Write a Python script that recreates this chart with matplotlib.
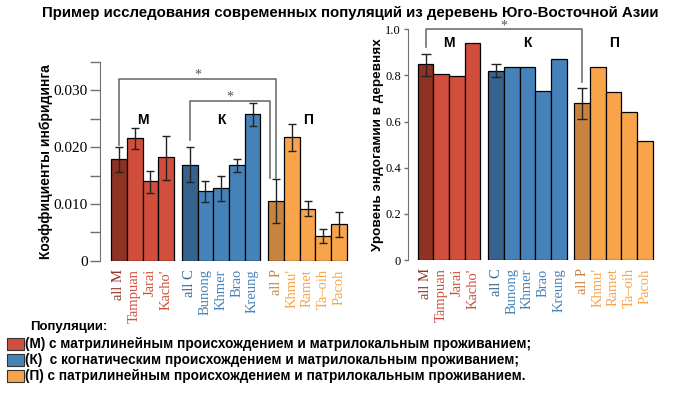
import matplotlib.pyplot as plt
from matplotlib.patches import Rectangle

plt.rcParams['font.family'] = ['Liberation Sans', 'DejaVu Sans']

# --- данные ---
labels = ["all M", "Tampuan", "Jarai", "Kacho'",
          "all C", "Bunong", "Khmer", "Brao", "Kreung",
          "all P", "Khmu'", "Ramet", "Ta\u2013oih", "Pacoh"]
groups = ["M"] * 4 + ["C"] * 5 + ["P"] * 5
is_all = [True, False, False, False, True, False, False, False, False,
          True, False, False, False, False]

inbreeding = [0.0179, 0.0216, 0.0140, 0.0182,
              0.0169, 0.0122, 0.0128, 0.0168, 0.0258,
              0.0105, 0.0218, 0.0092, 0.0043, 0.0065]
inb_hi = [0.0201, 0.0234, 0.0158, 0.0220,
          0.0201, 0.0141, 0.0150, 0.0180, 0.0277,
          0.0144, 0.0241, 0.0106, 0.0056, 0.0086]
inb_lo = [0.0157, 0.0197, 0.0120, 0.0143,
          0.0138, 0.0103, 0.0106, 0.0156, 0.0238,
          0.0066, 0.0194, 0.0079, 0.0031, 0.0042]

endogamy = [0.848, 0.805, 0.796, 0.939,
            0.821, 0.835, 0.838, 0.734, 0.873,
            0.681, 0.835, 0.728, 0.642, 0.517]
# ошибки только у объединённых групп
endo_err = {0: (0.895, 0.799), 4: (0.851, 0.792), 9: (0.747, 0.613)}

group_names = {"M": "М", "C": "К", "P": "П"}
legend_text = ["(М) с матрилинейным происхождением и матрилокальным проживанием;",
               "(К)  с когнатическим происхождением и матрилокальным проживанием;",
               "(П) с патрилинейным происхождением и патрилокальным проживанием."]

# --- цвета ---
dark = {"M": "#8E3324", "C": "#35638D", "P": "#C8833F"}
light = {"M": "#D04E3B", "C": "#4682BA", "P": "#F9A44B"}
bar_colors = [dark[g] if a else light[g] for g, a in zip(groups, is_all)]
axis_gray = "#707070"

# позиции столбиков: промежуток 0.5 между группами
offs = {"M": 0.0, "C": 0.5, "P": 1.0}
xs = [i + offs[g] + 0.5 for i, g in enumerate(groups)]
group_centers = {}
for g in ["M", "C", "P"]:
    pts = [x for x, gg in zip(xs, groups) if gg == g]
    group_centers[g] = (pts[0] + pts[-1]) / 2


def style_axis(ax, ymax, tick_len):
    for s in ["top", "right", "bottom"]:
        ax.spines[s].set_visible(False)
    ax.spines["left"].set_color(axis_gray)
    ax.spines["left"].set_bounds(0, ymax)
    ax.tick_params(axis="y", colors=axis_gray, length=tick_len, width=1,
                   direction="out", pad=2)
    ax.tick_params(axis="x", length=0, pad=6)
    ax.set_xticks(xs)
    ax.set_xticklabels(labels, rotation=90, family="Liberation Serif", fontsize=10.5)
    for t, c in zip(ax.get_xticklabels(), bar_colors):
        t.set_color(c)
    for t in ax.get_yticklabels():
        t.set_color("black")
        t.set_family("Liberation Serif")


def bracket(ax, x1, y1, x2, y2, ytop, star_y):
    ax.plot([x1, x1, x2, x2], [y1, ytop, ytop, y2], color=axis_gray, lw=1.2,
            clip_on=False)
    ax.text((x1 + x2) / 2, star_y, "*", ha="center", va="center",
            family="Liberation Serif", fontsize=10, color="#555555", clip_on=False)


fig = plt.figure(figsize=(7, 3.94), dpi=100)

# --- левая панель: коэффициенты инбридинга ---
ax1 = fig.add_axes([0.143, 0.338, 0.357, 0.505])
yerr = [[v - lo for v, lo in zip(inbreeding, inb_lo)],
        [hi - v for v, hi in zip(inbreeding, inb_hi)]]
ax1.bar(xs, inbreeding, width=1.0, color=bar_colors, edgecolor="black",
        linewidth=0.9, yerr=yerr, capsize=3,
        error_kw=dict(ecolor="#222222", elinewidth=1, capthick=1))
ax1.set_xlim(-0.7, 15.2)
ax1.set_ylim(0, 0.035)
ax1.set_yticks([0, 0.005, 0.010, 0.015, 0.020, 0.025, 0.030, 0.035])
ax1.set_yticklabels(["0", "", "0.010", "", "0.020", "", "0.030", ""], fontsize=11)
style_axis(ax1, 0.035, 7)
ax1.set_ylabel("Коэффициенты инбридинга", fontsize=10, fontweight="bold", labelpad=0)
bracket(ax1, xs[0], 0.0204, xs[9], 0.0146, 0.0320, 0.0327)
bracket(ax1, xs[4], 0.0213, xs[9] - 0.4, 0.0146, 0.0281, 0.0288)
for g, c in group_centers.items():
    ax1.text(c, 0.0248, group_names[g], ha="center", va="center",
             fontsize=10, fontweight="bold")

# --- правая панель: уровень эндогамии ---
ax2 = fig.add_axes([0.583, 0.340, 0.354, 0.5855])
ax2.bar(xs, endogamy, width=1.0, color=bar_colors, edgecolor="black", linewidth=0.9)
for i, (hi, lo) in endo_err.items():
    ax2.errorbar(xs[i], endogamy[i], yerr=[[endogamy[i] - lo], [hi - endogamy[i]]],
                 fmt="none", ecolor="#222222", elinewidth=1, capsize=3.5, capthick=1)
ax2.set_xlim(-0.62, 15.2)
ax2.set_ylim(0, 1.0)
ax2.set_yticks([0, 0.2, 0.4, 0.6, 0.8, 1.0])
ax2.set_yticklabels(["0", "0.2", "0.4", "0.6", "0.8", "1.0"], fontsize=9)
style_axis(ax2, 1.0, 3)
ax2.set_ylabel("Уровень эндогамии в деревнях", fontsize=9.7, fontweight="bold", labelpad=1)
bracket(ax2, xs[0], 0.925, xs[9], 0.770, 1.0, 1.013)
for g, c in group_centers.items():
    ax2.text(c, 0.939, group_names[g], ha="center", va="center",
             fontsize=10, fontweight="bold")

# --- заголовок ---
fig.text(0.5, 0.967, "Пример исследования современных популяций из деревень Юго-Восточной Азии",
         ha="center", va="center", fontsize=10.85, fontweight="bold")

# --- легенда ---
fig.text(30 / 700, 1 - 327 / 394, "Популяции:", ha="left", va="center",
         fontsize=9.5, fontweight="bold")
for k, (g, txt) in enumerate(zip(["M", "C", "P"], legend_text)):
    yc = 344 + 16 * k
    fig.patches.append(Rectangle((7 / 700, 1 - (yc + 6) / 394), 17 / 700, 12 / 394,
                                 transform=fig.transFigure, facecolor=light[g],
                                 edgecolor="#333333", linewidth=0.8))
    fig.text(25 / 700, 1 - yc / 394, txt, ha="left", va="center",
             fontsize=9.8, fontweight="bold")

fig.savefig("out.png", dpi=100)
